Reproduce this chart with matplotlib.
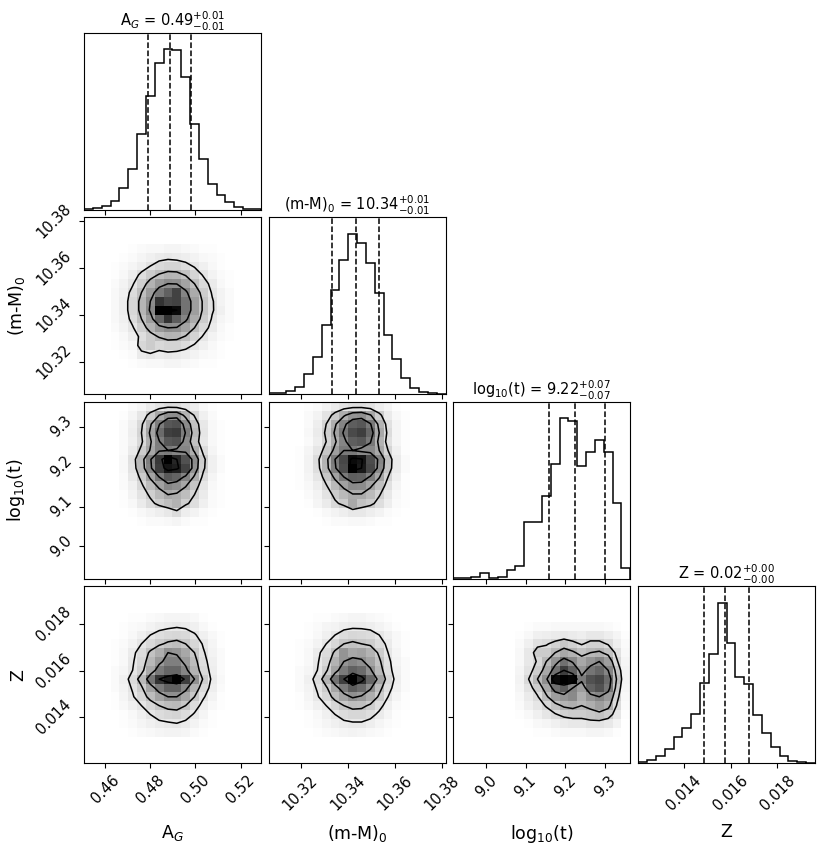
import numpy as np
import matplotlib.pyplot as plt

# parameter names, plot ranges and ticks
names = ["A$_G$", "(m-M)$_0$", "log$_{10}$(t)", "Z"]
ranges = [(0.4505, 0.529), (10.3065, 10.3815), (8.919, 9.363), (0.01203, 0.01961)]
ticks = [[0.46, 0.48, 0.50, 0.52],
         [10.32, 10.34, 10.36, 10.38],
         [9.0, 9.1, 9.2, 9.3],
         [0.014, 0.016, 0.018]]
tick_labels = [["0.46", "0.48", "0.50", "0.52"],
               ["10.32", "10.34", "10.36", "10.38"],
               ["9.0", "9.1", "9.2", "9.3"],
               ["0.014", "0.016", "0.018"]]
titles = ["A$_G$ = $0.49_{-0.01}^{+0.01}$",
          "(m-M)$_0$ = $10.34_{-0.01}^{+0.01}$",
          "log$_{10}$(t) = $9.22_{-0.07}^{+0.07}$",
          "Z = $0.02_{-0.00}^{+0.00}$"]

# 1D marginals (20 bins, relative heights)
hist_ag = [0.002, 0.008, 0.023, 0.054, 0.133, 0.254, 0.473, 0.706, 0.915, 1.0,
           0.994, 0.823, 0.535, 0.313, 0.160, 0.088, 0.044, 0.015, 0.006, 0.002]
hist_dm = [0.004, 0.008, 0.017, 0.042, 0.125, 0.229, 0.433, 0.646, 0.833, 1.0,
           0.944, 0.819, 0.629, 0.369, 0.217, 0.098, 0.035, 0.015, 0.006, 0.002]
hist_logt = [0.004, 0.002, 0.0125, 0.033, 0.002, 0.0125, 0.052, 0.077, 0.35, 0.35,
             0.517, 0.715, 1.0, 0.979, 0.704, 0.79, 0.865, 0.79, 0.469, 0.067]
hist_z = [0.004, 0.017, 0.042, 0.088, 0.159, 0.215, 0.303, 0.498, 0.682, 1.0,
          0.745, 0.536, 0.494, 0.299, 0.184, 0.100, 0.042, 0.013, 0.006, 0.002]

# 16/50/84 percent quantiles
q_ag = [0.4788, 0.4888, 0.4982]
q_dm = [10.3335, 10.3436, 10.3532]
q_logt = [9.1587, 9.2242, 9.2987]
q_z = [0.01486, 0.01574, 0.01678]

# 2D densities, rows from top to bottom, (first column bin, top row bin)
dens_ag_dm = [
    [0, 0, 1, 2, 3, 3, 4, 4, 3, 2, 1, 1, 0, 0],
    [0, 1, 2, 4, 6, 8, 9, 8, 7, 5, 3, 2, 1, 0],
    [1, 2, 4, 7, 11, 15, 17, 17, 14, 10, 6, 3, 1, 0],
    [1, 3, 7, 13, 20, 26, 30, 29, 24, 17, 10, 5, 2, 1],
    [2, 5, 10, 19, 30, 40, 45, 44, 36, 25, 15, 8, 3, 1],
    [3, 6, 14, 25, 39, 52, 62, 74, 48, 33, 20, 10, 5, 2],
    [3, 7, 16, 29, 45, 80, 72, 74, 55, 38, 23, 12, 5, 2],
    [3, 7, 16, 29, 47, 100, 100, 96, 55, 38, 23, 12, 6, 2],
    [3, 6, 14, 25, 39, 60, 80, 64, 48, 33, 20, 10, 4, 2],
    [2, 5, 10, 19, 30, 40, 45, 44, 36, 25, 15, 8, 3, 1],
    [1, 3, 7, 13, 20, 26, 30, 29, 24, 17, 10, 5, 2, 1],
    [1, 2, 4, 16, 20, 15, 17, 17, 14, 10, 6, 3, 1, 0],
    [0, 1, 2, 8, 10, 8, 9, 8, 7, 5, 3, 2, 1, 0],
    [0, 0, 1, 2, 3, 3, 4, 4, 3, 2, 1, 1, 0, 0]]
org_ag_dm = (3, 16)

dens_ag_logt = [
    [0, 0, 2, 4, 8, 11, 14, 13, 10, 7, 3, 1, 0, 0],
    [0, 1, 4, 10, 21, 34, 44, 45, 30, 16, 6, 2, 0, 0],
    [0, 2, 6, 15, 32, 51, 66, 68, 45, 24, 9, 3, 1, 0],
    [0, 2, 7, 17, 36, 58, 75, 77, 51, 27, 10, 3, 1, 0],
    [0, 2, 6, 15, 32, 51, 66, 68, 45, 24, 9, 3, 1, 0],
    [0, 2, 8, 20, 35, 50, 52, 48, 48, 32, 14, 4, 1, 0],
    [0, 3, 12, 28, 50, 78, 100, 85, 68, 45, 20, 6, 2, 0],
    [0, 3, 11, 27, 48, 76, 92, 88, 74, 43, 19, 6, 2, 0],
    [0, 2, 9, 20, 36, 52, 65, 61, 49, 32, 14, 4, 1, 0],
    [0, 2, 6, 15, 26, 37, 47, 44, 35, 23, 10, 3, 1, 0],
    [0, 1, 5, 11, 19, 27, 34, 32, 26, 17, 8, 2, 1, 0],
    [0, 1, 3, 8, 14, 20, 25, 30, 19, 13, 6, 2, 1, 0],
    [0, 0, 1, 3, 5, 7, 9, 14, 7, 5, 2, 1, 0, 0],
    [0, 0, 0, 1, 2, 2, 3, 4, 2, 1, 1, 0, 0, 0]]
org_ag_logt = (3, 19)

dens_dm_logt = [
    [0, 1, 2, 5, 8, 11, 13, 13, 11, 7, 4, 1, 0, 0],
    [0, 2, 5, 11, 21, 32, 42, 44, 35, 20, 8, 3, 1, 0],
    [0, 2, 7, 17, 32, 48, 63, 66, 53, 30, 12, 4, 1, 0],
    [0, 3, 8, 19, 36, 54, 71, 75, 60, 34, 14, 4, 1, 0],
    [0, 2, 7, 17, 32, 48, 63, 66, 53, 30, 12, 4, 1, 0],
    [1, 4, 10, 22, 38, 52, 52, 46, 46, 34, 17, 6, 1, 0],
    [1, 5, 14, 30, 52, 72, 96, 92, 70, 48, 24, 8, 2, 0],
    [1, 5, 13, 29, 50, 70, 100, 90, 72, 46, 23, 8, 2, 0],
    [1, 4, 10, 22, 37, 52, 63, 62, 50, 35, 17, 6, 1, 0],
    [1, 3, 7, 16, 27, 37, 46, 45, 36, 25, 12, 4, 1, 0],
    [0, 2, 5, 11, 20, 27, 33, 33, 27, 18, 9, 3, 1, 0],
    [0, 1, 4, 8, 15, 20, 34, 24, 20, 13, 7, 2, 1, 0],
    [0, 0, 1, 3, 5, 7, 9, 9, 7, 5, 2, 1, 0, 0],
    [0, 0, 0, 1, 2, 2, 3, 3, 2, 1, 1, 0, 0, 0]]
org_dm_logt = (3, 19)

dens_ag_z = [
    [0, 0, 1, 1, 2, 3, 4, 4, 4, 3, 1, 0, 0, 0],
    [0, 1, 2, 3, 5, 7, 8, 9, 8, 6, 3, 1, 0, 0],
    [0, 1, 3, 6, 10, 13, 15, 16, 15, 11, 6, 3, 1, 0],
    [1, 2, 5, 10, 15, 20, 24, 26, 22, 16, 9, 4, 1, 0],
    [1, 3, 8, 14, 24, 32, 44, 42, 34, 22, 11, 5, 2, 0],
    [1, 3, 9, 16, 28, 40, 50, 50, 40, 26, 13, 6, 2, 0],
    [2, 4, 10, 18, 34, 52, 60, 60, 48, 30, 15, 7, 2, 0],
    [2, 6, 14, 28, 55, 80, 90, 100, 76, 44, 20, 8, 3, 0],
    [2, 5, 11, 20, 36, 52, 62, 62, 48, 30, 15, 7, 2, 0],
    [1, 4, 9, 16, 26, 36, 44, 44, 35, 22, 11, 5, 1, 0],
    [1, 3, 6, 10, 16, 22, 26, 27, 22, 14, 7, 3, 1, 0],
    [0, 1, 3, 6, 10, 14, 16, 17, 14, 9, 4, 1, 0, 0],
    [0, 1, 2, 4, 6, 8, 9, 10, 8, 5, 2, 1, 0, 0],
    [0, 0, 1, 2, 3, 4, 5, 5, 4, 2, 1, 0, 0, 0]]
org_ag_z = (3, 16)

dens_dm_z = [
    [0, 0, 1, 1, 2, 3, 4, 4, 3, 2, 1, 0, 0, 0],
    [0, 1, 2, 4, 5, 7, 8, 8, 7, 5, 3, 1, 0, 0],
    [0, 1, 3, 6, 10, 14, 16, 15, 14, 10, 6, 3, 1, 0],
    [1, 2, 5, 10, 16, 22, 24, 22, 20, 14, 8, 3, 1, 0],
    [1, 3, 8, 14, 24, 42, 34, 36, 30, 20, 10, 4, 1, 0],
    [1, 3, 9, 16, 30, 42, 48, 44, 36, 24, 12, 5, 2, 0],
    [2, 4, 10, 20, 36, 52, 62, 58, 44, 28, 13, 6, 2, 0],
    [2, 6, 14, 30, 55, 75, 100, 82, 60, 36, 16, 7, 2, 0],
    [2, 5, 11, 20, 35, 52, 64, 58, 44, 26, 13, 6, 2, 0],
    [1, 4, 9, 16, 26, 36, 44, 40, 32, 20, 10, 4, 1, 0],
    [1, 3, 6, 10, 16, 22, 26, 25, 20, 13, 6, 2, 1, 0],
    [0, 1, 3, 6, 10, 14, 16, 16, 13, 8, 4, 1, 0, 0],
    [0, 1, 2, 4, 6, 8, 9, 9, 7, 4, 2, 1, 0, 0],
    [0, 0, 1, 2, 3, 4, 5, 4, 3, 2, 1, 0, 0, 0]]
org_dm_z = (3, 16)

dens_logt_z = [
    [0, 1, 2, 2, 3, 3, 3, 3, 3, 3, 2, 1, 0],
    [1, 3, 6, 7, 8, 9, 8, 7, 9, 9, 7, 4, 1],
    [2, 6, 12, 14, 18, 22, 18, 14, 18, 18, 14, 7, 2],
    [3, 9, 20, 20, 28, 34, 30, 24, 28, 30, 24, 12, 3],
    [3, 9, 16, 28, 42, 56, 46, 34, 42, 48, 38, 16, 4],
    [4, 11, 20, 34, 56, 76, 62, 42, 54, 60, 48, 22, 5],
    [5, 15, 28, 44, 96, 100, 98, 52, 68, 72, 58, 26, 5],
    [4, 11, 20, 34, 56, 64, 48, 38, 62, 68, 54, 22, 4],
    [3, 8, 14, 26, 38, 42, 46, 32, 42, 48, 40, 18, 3],
    [2, 6, 10, 16, 24, 30, 32, 28, 32, 38, 32, 14, 2],
    [1, 3, 6, 10, 14, 18, 20, 20, 22, 24, 20, 10, 1],
    [0, 1, 3, 4, 6, 8, 9, 9, 11, 11, 9, 5, 0],
    [0, 0, 1, 1, 2, 3, 3, 3, 4, 4, 3, 1, 0]]
org_logt_z = (7, 15)

hists = [hist_ag, hist_dm, hist_logt, hist_z]
quants = [q_ag, q_dm, q_logt, q_z]
dens = {(1, 0): (dens_ag_dm, org_ag_dm), (2, 0): (dens_ag_logt, org_ag_logt),
        (2, 1): (dens_dm_logt, org_dm_logt), (3, 0): (dens_ag_z, org_ag_z),
        (3, 1): (dens_dm_z, org_dm_z), (3, 2): (dens_logt_z, org_logt_z)}

nb = 20
sig_levels = 1.0 - np.exp(-0.5 * np.arange(0.5, 2.1, 0.5) ** 2)


def full_grid(block, org):
    H = np.zeros((nb, nb))
    b = np.array(block, dtype=float)[::-1]
    nr, nc = b.shape
    r0 = org[1] - nr + 1
    H[r0:r0 + nr, org[0]:org[0] + nc] = b
    return H


def contour_levels(H):
    flat = np.sort(H.ravel())[::-1]
    sm = np.cumsum(flat)
    sm /= sm[-1]
    V = np.empty(len(sig_levels))
    for k, lev in enumerate(sig_levels):
        try:
            V[k] = flat[sm <= lev][-1]
        except IndexError:
            V[k] = flat[0]
    V.sort()
    m = np.diff(V) == 0
    while np.any(m):
        V[np.where(m)[0][0]] *= 1.0 - 1e-4
        m = np.diff(V) == 0
    return V


def centers(r):
    e = np.linspace(r[0], r[1], nb + 1)
    c = 0.5 * (e[1:] + e[:-1])
    d = c[1] - c[0]
    return e, np.concatenate([[c[0] - 2 * d, c[0] - d], c, [c[-1] + d, c[-1] + 2 * d]])


fig, axes = plt.subplots(4, 4, figsize=(8.31, 8.48), dpi=100)
fig.subplots_adjust(left=84 / 831, right=815 / 831, top=1 - 33 / 848,
                    bottom=1 - 763 / 848, wspace=0.045, hspace=0.045)

for i in range(4):
    for j in range(4):
        ax = axes[i, j]
        if j > i:
            ax.set_frame_on(False)
            ax.set_xticks([])
            ax.set_yticks([])
            continue
        ex, cx = centers(ranges[j])
        if i == j:
            h = hists[i]
            ax.stairs(h, ex, color='k', lw=1.1)
            for q in quants[i]:
                ax.axvline(q, color='k', ls='--', lw=1.1)
            ax.set_ylim(0, 1.1 * max(h))
            ax.set_yticks([])
            ax.set_title(titles[i], fontsize=10.5, pad=3)
        else:
            ey, cy = centers(ranges[i])
            block, org = dens[(i, j)]
            H = full_grid(block, org)
            ax.pcolormesh(ex, ey, H, cmap='gray_r', vmin=0, vmax=H.max(), shading='flat')
            H2 = np.pad(np.pad(H, 1, mode='edge'), 1)
            ax.contour(cx, cy, H2, levels=contour_levels(H), colors='k', linewidths=1.1)
            ax.set_ylim(ranges[i])
            ax.set_yticks(ticks[i])
            if j == 0:
                ax.set_yticklabels(tick_labels[i], rotation=45, va='center', fontsize=10.5)
                ax.set_ylabel(names[i], fontsize=12.5)
                ax.yaxis.set_label_coords(-0.32, 0.5)
            else:
                ax.set_yticklabels([])
        ax.set_xlim(ranges[j])
        ax.set_xticks(ticks[j])
        if i == 3:
            ax.set_xticklabels(tick_labels[j], rotation=45, fontsize=10.5)
            ax.set_xlabel(names[j], fontsize=12.5)
            ax.xaxis.set_label_coords(0.5, -0.34)
        else:
            ax.set_xticklabels([])

fig.savefig("out.png", dpi=100)
